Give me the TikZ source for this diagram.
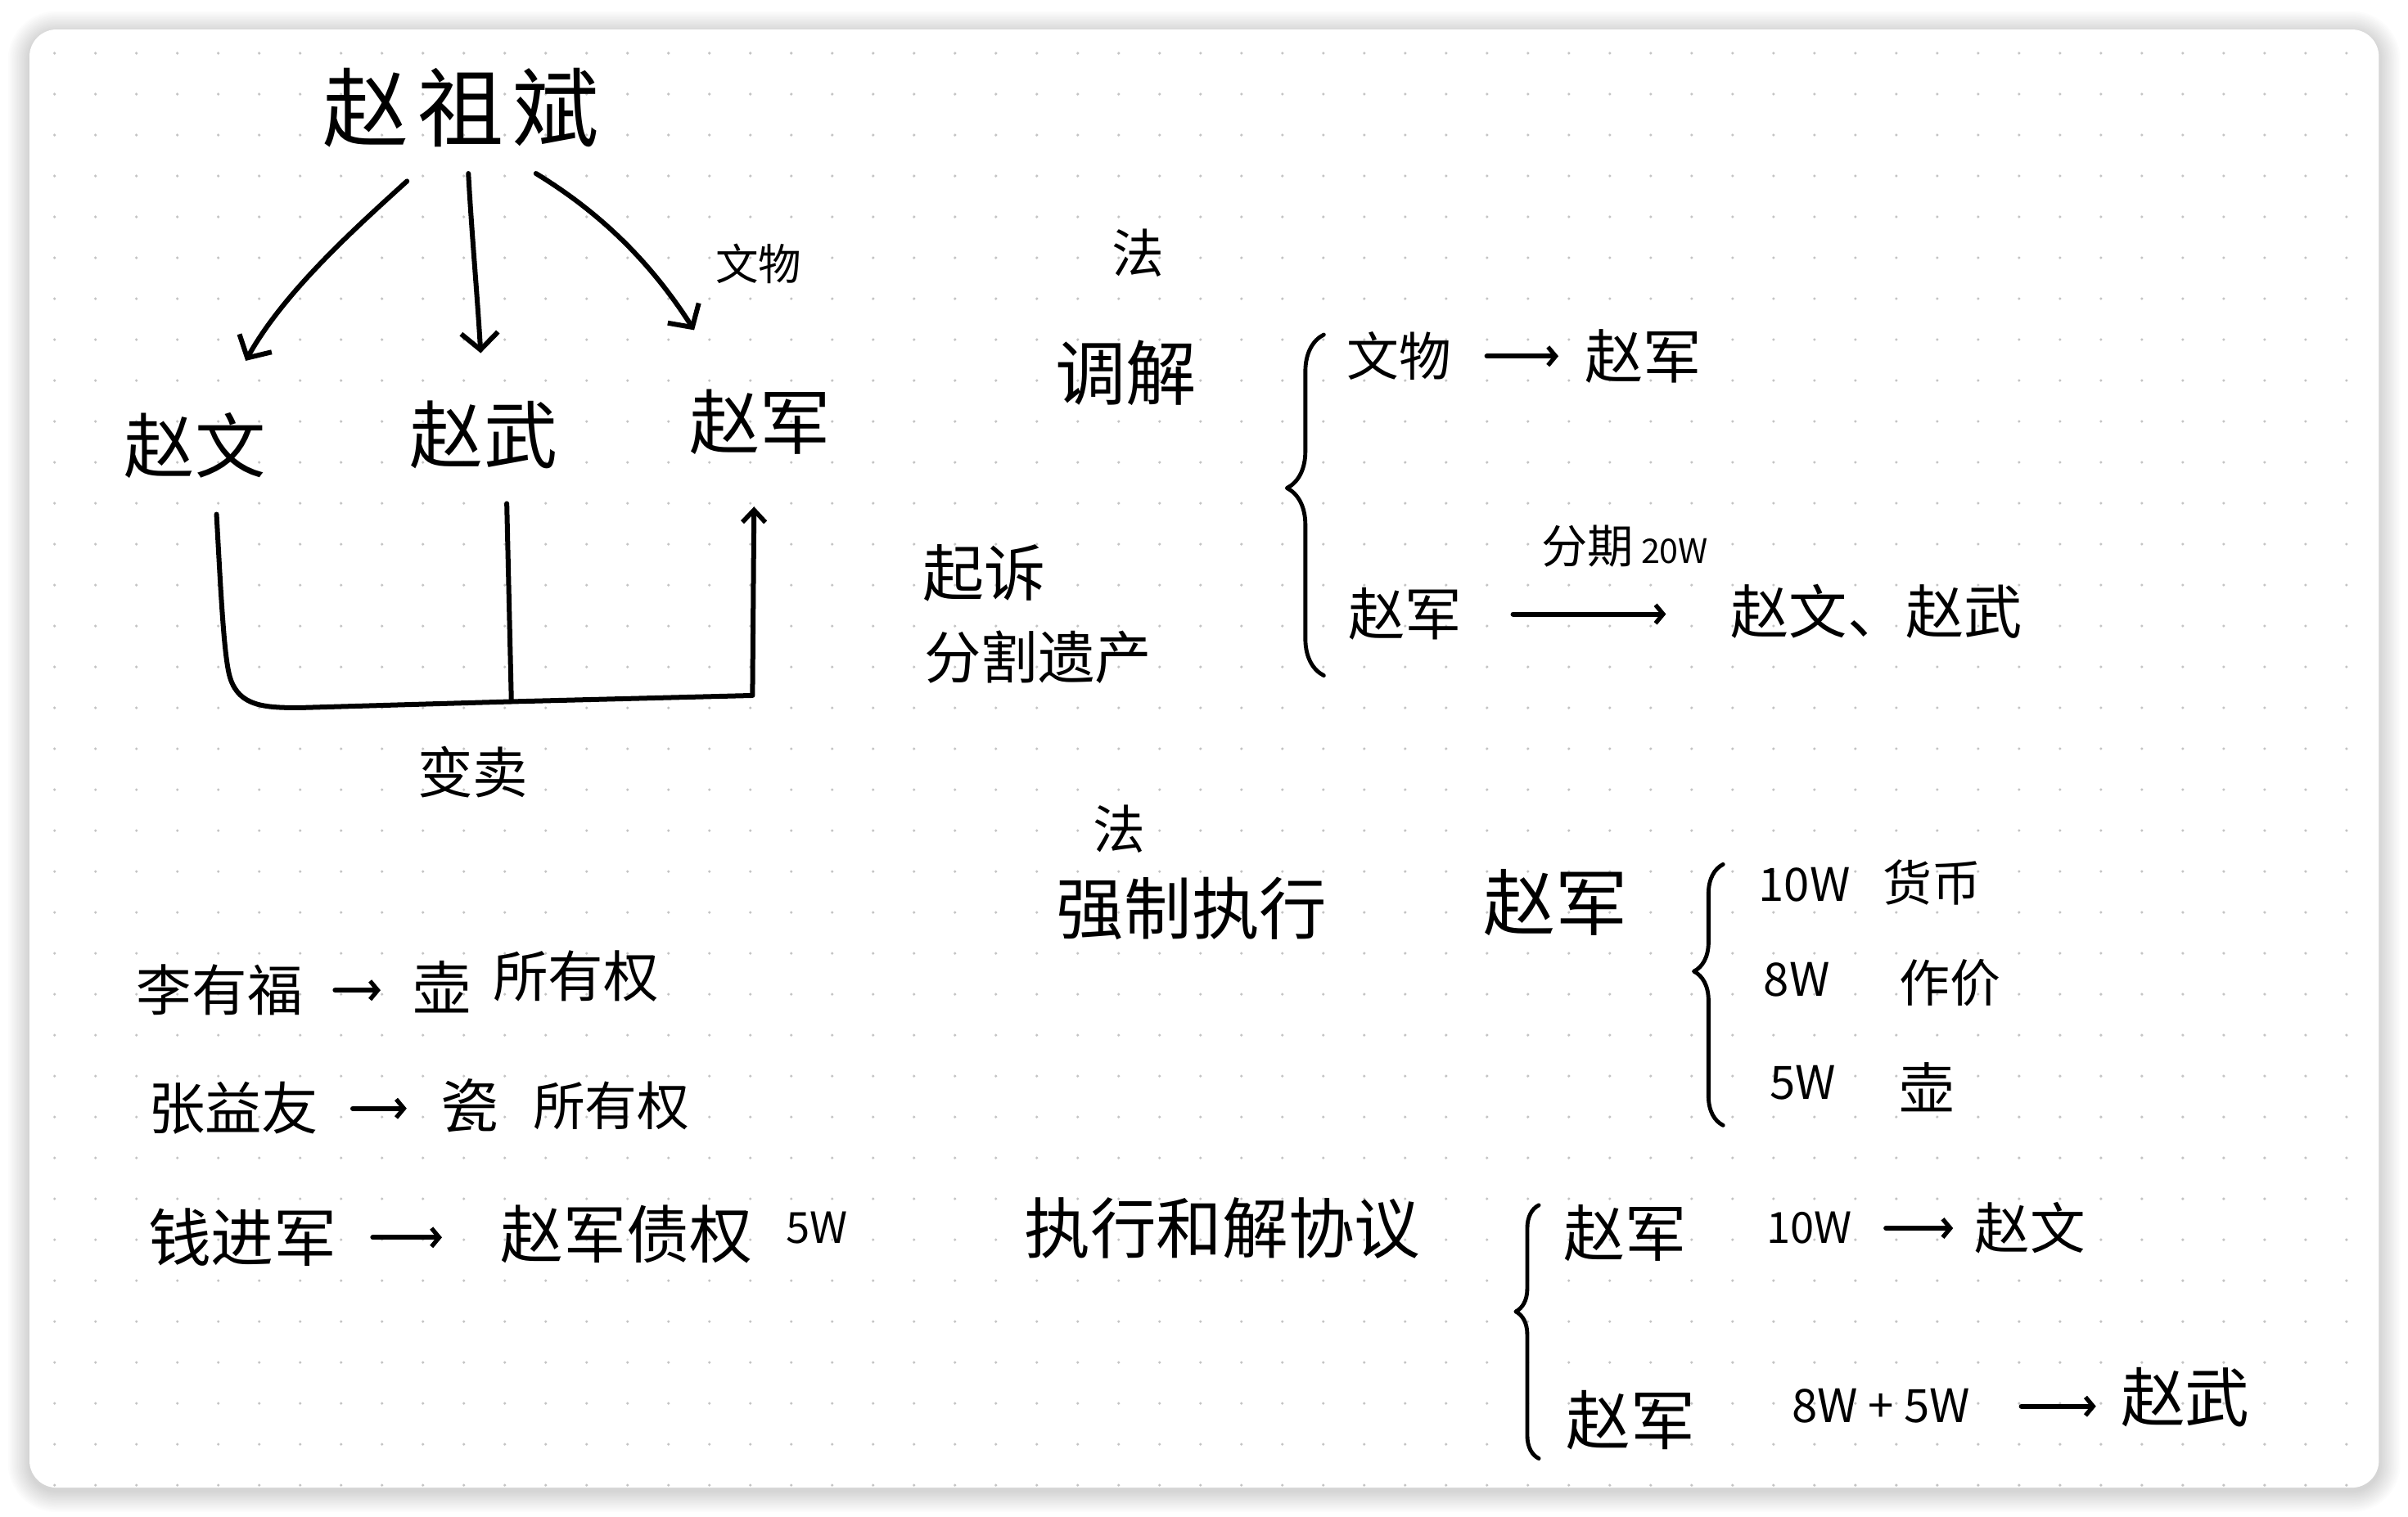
\documentclass[tikz,border=0pt]{standalone}
\usepackage{fontspec}
\newfontfamily\hand{Noto Sans CJK SC}
\usetikzlibrary{arrows.meta,decorations.pathreplacing,calc}
\newcommand\hsz[1]{\fontsize{#1}{#1}\selectfont}
\definecolor{dotgray}{HTML}{C4C4C4}

\begin{document}
\begin{tikzpicture}[x=1pt,y=-1pt,
  hw/.style={inner sep=0pt, font=\hand\hsz{#1}},
  ink/.style={line width=3.2pt, line cap=round, line join=round, black},
  bigtip/.style={-{Straight Barb[length=11pt,width=24pt,line width=3.2pt]}},
  bigtiptop/.style={-{Straight Barb[length=8pt,width=15pt,line width=3pt]}},
  smalltip/.style={-{Straight Barb[length=5pt,width=12pt,line width=2.8pt]}},
  bracket/.style={ink, line width=2.6pt, decorate, decoration={brace, amplitude=#1}},
  sidearrow/.style 2 args={ink, smalltip, shorten <=#1, shorten >=#2}
]
\useasboundingbox (0,0) rectangle (1568,988);
\fill[white] (0,0) rectangle (1568,988);

% soft shadow under the sheet
\foreach \k in {1,...,14}
  \fill[black, opacity=0.011, rounded corners=\k pt + 17.6pt]
    (19.2-\k,19.2-\k+2) rectangle (1549+\k,969+\k+2);

% the sheet
\fill[white, rounded corners=17.6pt] (19.2,19.2) rectangle (1549,969);

% dot grid
\foreach \i in {0,...,56}
  \foreach \j in {0,...,35}
    \fill[dotgray] (35.55+26.65*\i, 34.65+26.65*\j) circle (0.95);

% ---------- family tree ----------
\node[hw=56] (zu) at (300,70) {赵\hspace{6pt}祖\hspace{6pt}斌};
\node[hw=28] (wenwu0) at (494,172) {文物};
\node[hw=46] (wen) at (127,290) {赵文};
\node[hw=48] (wu) at (315,283) {赵武};
\node[hw=46] (jun) at (495,275) {赵军};
\node[hw=36] (sell) at (308,503) {变卖};

\coordinate (zuL) at (265,118);
\coordinate (zuM) at (305,113);
\coordinate (zuR) at (349,113);
\coordinate (wenT) at (160,235);
\coordinate (wuT) at (313,230);
\coordinate (junT) at (452,215);

\draw[ink,bigtip] (zuL) .. controls (232,148) and (185,190) .. (wenT);
\draw[ink,bigtip] (zuM) .. controls (307,150) and (311,195) .. (wuT);
\draw[ink,bigtip] (zuR) .. controls (385,135) and (420,165) .. (junT);

\coordinate (wenB) at (141,335);
\coordinate (wuB) at (330,328);
\coordinate (junB) at (491,330);
\coordinate (joinW) at (333,457);
\coordinate (joinR) at (490,453);

\draw[ink,bigtiptop] (wenB) .. controls (144,390) and (146,430) .. (150,442)
  .. controls (156,460) and (172,461) .. (195,461) -- (joinW) -- (joinR) -- (junB);
\draw[ink] (wuB) -- (joinW);

% ---------- mediation ----------
\node[hw=34] (fa1) at (741,165) {法};
\node[hw=46] (tiaojie) at (733,243) {调解};
\node[hw=40] (qisu) at (641,373) {起诉};
\node[hw=37] (fenge) at (676,428) {分割遗产};

\coordinate (br1b) at (862,440);
\coordinate (br1t) at (862,218);
\draw[bracket=24pt, decoration={aspect=0.55}] (br1b) -- (br1t);

\node[hw=34] (wenwu1) at (911,232) {文物};
\node[hw=38] (jun1) at (1070,232) {赵军};
\draw[sidearrow={23pt}{17pt}] (wenwu1.east) -- (wenwu1.east -| jun1.west);

\node[hw=37] (jun2) at (915,400) {赵军};
\node[hw=38] (wenwu2) at (1222,398) {赵文、赵武};
\draw[sidearrow={33pt}{42pt}] (jun2.east) -- (jun2.east -| wenwu2.west);
\node[inner sep=0pt] (fenqi) at (1058,356)
  {{\hand\hsz{30}分期}\hspace{5pt}{\hand\hsz{22}20W}};

% ---------- enforcement ----------
\node[hw=34] (fa2) at (729,540) {法};
\node[hw=44] (qiangzhi) at (776,592) {强制执行};
\node[hw=47] (jun3) at (1013,588) {赵军};

\coordinate (br2b) at (1122,733);
\coordinate (br2t) at (1122,563);
\draw[bracket=19pt, decoration={aspect=0.59}] (br2b) -- (br2t);

\node[hw=30] (m10) at (1175,576) {10W};
\node[hw=32] (huobi) at (1258,575) {货币};
\node[hw=30] (m8) at (1170,638) {8W};
\node[hw=33] (zuojia) at (1270,640) {作价};
\node[hw=30] (m5) at (1174,705) {5W};
\node[hw=36] (hu2) at (1255,708) {壶};

% ---------- ownership ----------
\node[hw=36] (li) at (143,645) {李有福};
\node[hw=38] (hu1) at (288,643) {壶};
\node[hw=36] (suo1) at (375,636) {所有权};
\draw[sidearrow={21pt}{21pt}] (li.east) -- (li.east -| hu1.west);

\node[hw=37] (zhang) at (152,722) {张益友};
\node[hw=38] (ci) at (306,720) {瓷};
\node[hw=34] (suo2) at (398,720) {所有权};
\draw[sidearrow={22pt}{22pt}] (zhang.east) -- (zhang.east -| ci.west);

\node[hw=41] (qian) at (158,806) {钱进军};
\node[hw=41] (zhaiquan) at (408,804) {赵军债权};
\node[hw=28] (m5b) at (532,800) {5W};
\draw[sidearrow={23pt}{38pt}] (qian.east) -- (qian.east -| zhaiquan.west);

% ---------- settlement ----------
\node[hw=43] (hejie) at (796,800) {执行和解协议};

\coordinate (br3b) at (1002,950);
\coordinate (br3t) at (1002,785);
\draw[bracket=15pt, decoration={aspect=0.58}] (br3b) -- (br3t);

\node[hw=40] (jun4) at (1058,803) {赵军};
\node[hw=28] (m10b) at (1178,800) {10W};
\node[hw=36] (wen4) at (1322,800) {赵文};
\draw[sidearrow={22pt}{14pt}] (m10b.east) -- (m10b.east -| wen4.west);

\node[hw=42] (jun5) at (1062,925) {赵军};
\node[hw=30] (m85) at (1225,916) {8W + 5W};
\node[hw=42] (wu5) at (1423,910) {赵武};
\draw[sidearrow={33pt}{16pt}] (m85.east) -- (m85.east -| wu5.west);
\end{tikzpicture}
\end{document}
